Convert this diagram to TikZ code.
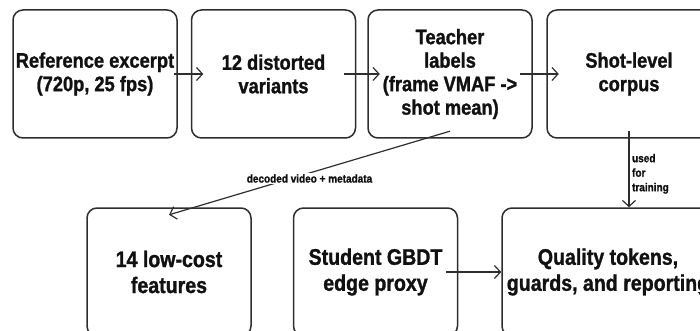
\documentclass[tikz,border=0pt]{standalone}
\usepackage{fontspec}
\setmainfont[FakeStretch=0.87, BoldFeatures={FakeBold=1.2}]{Liberation Sans}
\usetikzlibrary{arrows.meta}
\definecolor{edge}{HTML}{2E2E2E}
\definecolor{ink}{HTML}{111111}
\tikzset{
  box/.style={draw=edge, line width=1.5pt, rounded corners=10pt, minimum width=164pt, minimum height=128pt, inner sep=0pt},
  txt/.style={minimum width=140pt, minimum height=114pt, align=center, inner sep=0pt, text=ink, font=\bfseries\fontsize{21}{23.5}\selectfont},
  txtb/.style={txt, font=\bfseries\fontsize{22.5}{26}\selectfont},
  conn/.style={draw=edge, line width=1.2pt, -{Straight Barb[length=6pt,width=13pt,line width=1.2pt]}},
  small/.style={text=ink, font=\bfseries\fontsize{11.5}{14.5}\selectfont}
}
\begin{document}
\begin{tikzpicture}[x=1pt,y=-1pt]
\useasboundingbox (0,0) rectangle (700,331);
\clip (0,0) rectangle (700,331);
% top row
\node[box] (b1) at (95,74) {};
\node[txt] (t1) at (95,74) {Reference excerpt\\(720p, 25 fps)};
\node[box] (b2) at (273.5,74) {};
\node[txt] (t2) at (273.5,74) {12 distorted\\variants};
\node[box] (b3) at (450,74) {};
\node[txt] (t3) at (450,74) {Teacher\\labels\\(frame VMAF ->\\shot mean)};
\node[box] (b4) at (629,74) {};
\node[txt] (t4) at (629,74) {Shot-level\\corpus};
% bottom row
\node[box] (b5) at (169,272) {};
\node[txtb] (t5) at (169,272) {14 low-cost\\features};
\node[box] (b6) at (375.5,272) {};
\node[txtb] (t6) at (375.5,272) {Student GBDT\\edge proxy};
\node[box, minimum width=212pt] (b7) at (608,272) {};
\node[txtb] (t7) at (608,272) {Quality tokens,\\guards, and reporting};
% connectors
\draw[conn] (t1.east) -- (t2.west);
\draw[conn] (t2.east) -- (t3.west);
\draw[conn] (t3.east) -- (t4.west);
\draw[conn] (t4.south) -- node[small, right, align=left, inner sep=2.5pt, pos=0.56] {used\\for\\training} (t4.south |- b7.north);
\draw[conn] (t3.south) -- node[small, fill=white, inner sep=1.5pt, yshift=-5.5pt] {decoded video + metadata} (t5.north);
\draw[conn] (t6.east) -- (b7.west);
\end{tikzpicture}
\end{document}
